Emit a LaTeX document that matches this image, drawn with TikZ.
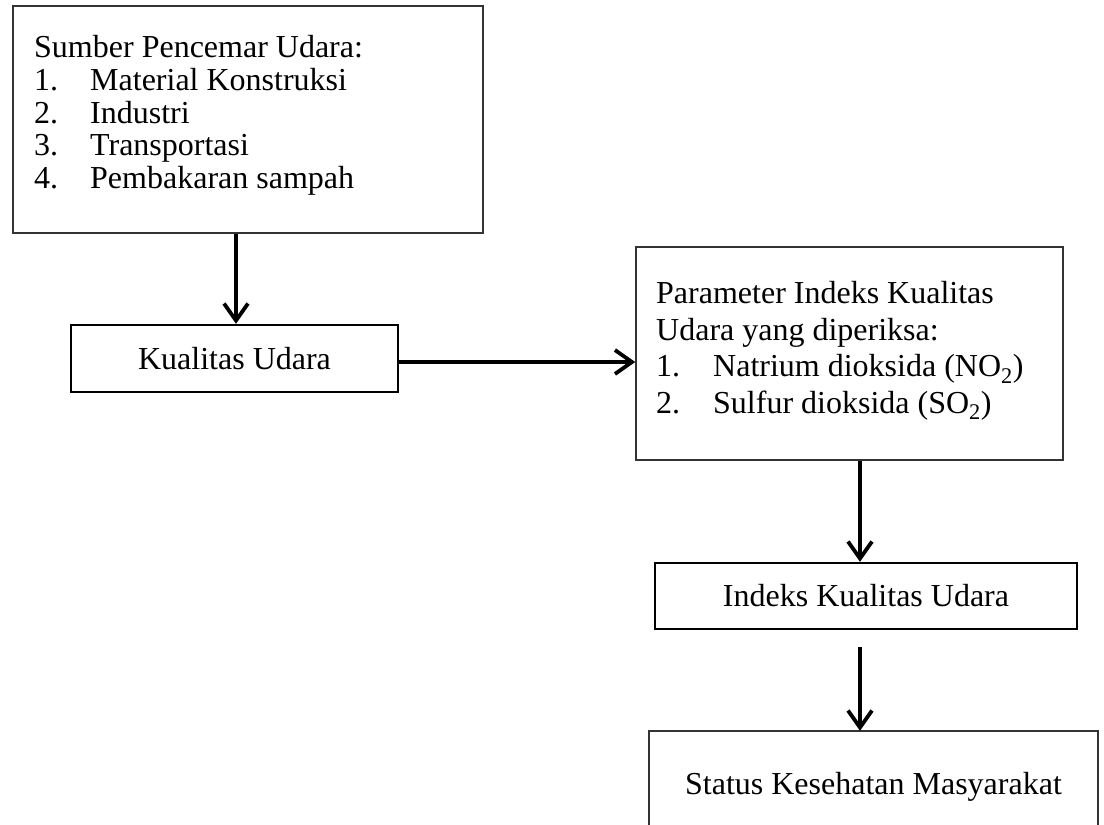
\documentclass[tikz,border=0pt]{standalone}
\usepackage{fontspec}
\setmainfont{Liberation Serif}
\usetikzlibrary{arrows.meta}
\newcommand\bodyfont{\fontsize{32}{32.8}\selectfont}
\newcommand\parafont{\fontsize{32}{36.7}\selectfont}
\newcommand\itemno[1]{\makebox[56pt][l]{#1}}
\tikzset{
  thinbox/.style={draw=black!80, line width=1.5pt, inner sep=0pt},
  thickbox/.style={draw=black, line width=2.4pt, inner sep=0pt, font=\bodyfont},
  txt/.style={inner sep=0pt, align=left},
  arr/.style={line width=3.8pt, draw=black, -{Straight Barb[length=17pt,width=24pt]}}
}
\begin{document}
\begin{tikzpicture}[x=1pt,y=-1pt]
\useasboundingbox (0,0) rectangle (1104,825);
% boxes
\node[thinbox, minimum width=470pt, minimum height=227pt] (src) at (248,119.5) {};
\node[txt, font=\bodyfont, anchor=north west] (srctxt) at (34,35)
  {\rule{0pt}{22pt}Sumber Pencemar Udara:\\
   \itemno{1.}Material Konstruksi\\
   \itemno{2.}Industri\\
   \itemno{3.}Transportasi\\
   \itemno{4.}Pembakaran sampah};
\node[thickbox, minimum width=327pt, minimum height=67pt] (kual) at (234.5,358.5) {Kualitas Udara};
\node[thinbox, minimum width=427pt, minimum height=213pt] (param) at (849.5,353.5) {};
\node[txt, font=\parafont, anchor=north west] (paramtxt) at (656,281)
  {\rule{0pt}{22pt}Parameter Indeks Kualitas\\
   Udara yang diperiksa:\\
   \makebox[57pt][l]{1.}Natrium dioksida (NO\textsubscript{2})\\
   \makebox[57pt][l]{2.}Sulfur dioksida (SO\textsubscript{2})};
\node[thickbox, minimum width=422pt, minimum height=66pt] (indeks) at (866,596) {Indeks Kualitas Udara};
\node[inner sep=0pt, font=\bodyfont, minimum width=449pt, minimum height=112pt] (status) at (873.5,787) {Status Kesehatan Masyarakat};
\draw[draw=black!80, line width=1.5pt] (status.south west) -- (status.north west) -- (status.north east) -- (status.south east);
% arrows
\draw[arr] ([xshift=1.5pt]kual.north |- src.south) -- ([xshift=1.5pt]kual.north);
\draw[arr] ([yshift=-3.5pt]kual.east) -- ([yshift=-3.5pt]param.west |- kual.east);
\draw[arr] ([xshift=-6pt]indeks.north |- param.south) -- ([xshift=-6pt]indeks.north);
\draw[arr] ([xshift=-6pt,yshift=-17pt]indeks.south) -- ([xshift=-13.5pt]status.north);
\end{tikzpicture}
\end{document}
